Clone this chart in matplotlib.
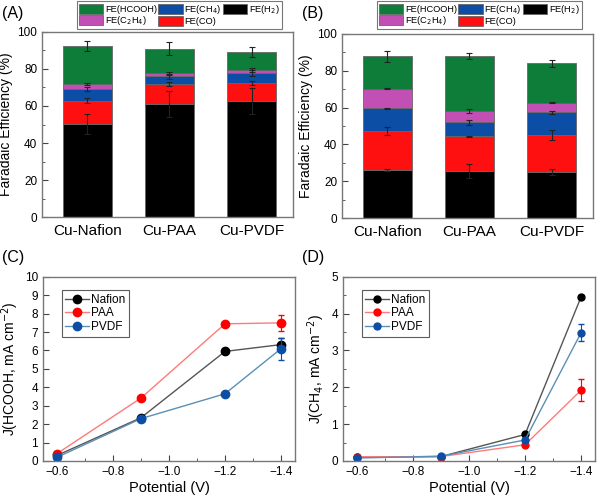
import matplotlib.pyplot as plt
from matplotlib.ticker import MultipleLocator
import numpy as np

plt.rcParams['font.family'] = ['Liberation Sans', 'DejaVu Sans']

# stacked faradaic efficiency data (segment heights, %)
samples = ['Cu-Nafion', 'Cu-PAA', 'Cu-PVDF']
species = ['FE(H$_2$)', 'FE(CO)', 'FE(CH$_4$)', 'FE(C$_2$H$_4$)', 'FE(HCOOH)']
seg_colors = ['#000000', '#ff1010', '#0c4ea6', '#c24fb4', '#0e7d3a']

fe_a = {
    'H2':    [50.3, 61.0, 62.9],
    'CO':    [12.6, 11.0, 9.4],
    'CH4':   [6.3, 4.0, 5.5],
    'C2H4':  [2.8, 1.6, 1.6],
    'HCOOH': [20.2, 13.4, 9.7],
}
err_a = {
    'H2':    [5.5, 7.0, 7.0],
    'CO':    [1.5, 1.0, 1.0],
    'CH4':   [1.3, 1.5, 1.5],
    'C2H4':  [0.5, 1.0, 1.0],
    'HCOOH': [2.7, 3.4, 2.9],
}
fe_b = {
    'H2':    [26.0, 25.5, 25.1],
    'CO':    [21.4, 18.9, 19.9],
    'CH4':   [12.2, 7.6, 12.4],
    'C2H4':  [10.6, 6.2, 5.3],
    'HCOOH': [17.6, 29.8, 21.3],
}
err_b = {
    'H2':    [0.5, 3.6, 1.5],
    'CO':    [2.3, 0.3, 2.7],
    'CH4':   [0.3, 1.2, 1.0],
    'C2H4':  [0.3, 1.0, 0.4],
    'HCOOH': [3.2, 1.8, 1.8],
}

# partial current densities
potential = [-0.6, -0.9, -1.2, -1.4]
j_hcooh = {
    'Nafion': [0.30, 2.35, 5.95, 6.32],
    'PAA':    [0.40, 3.42, 7.45, 7.50],
    'PVDF':   [0.20, 2.30, 3.65, 6.10],
}
j_hcooh_err = {
    'Nafion': [0.05, 0.05, 0.08, 0.35],
    'PAA':    [0.05, 0.05, 0.08, 0.45],
    'PVDF':   [0.05, 0.05, 0.08, 0.60],
}
j_ch4 = {
    'Nafion': [0.10, 0.12, 0.72, 4.45],
    'PAA':    [0.11, 0.12, 0.44, 1.92],
    'PVDF':   [0.08, 0.13, 0.57, 3.48],
}
j_ch4_err = {
    'Nafion': [0.02, 0.02, 0.04, 0.05],
    'PAA':    [0.02, 0.02, 0.04, 0.30],
    'PVDF':   [0.02, 0.02, 0.04, 0.23],
}
line_col = {'Nafion': '#555555', 'PAA': '#ff7a7a', 'PVDF': '#5b8fb5'}
mark_col = {'Nafion': '#000000', 'PAA': '#ff0000', 'PVDF': '#0c4ea6'}

frame = '#777777'
fig = plt.figure(figsize=(6, 4.99), dpi=100)


def style(ax):
    for s in ax.spines.values():
        s.set_color(frame)
        s.set_linewidth(1.0)
    ax.tick_params(direction='in', which='both', color='#444444', labelsize=8.5)
    ax.tick_params(which='major', length=4)
    ax.tick_params(which='minor', length=2)


def stacked(ax, fe, err):
    x = np.arange(len(samples))
    bottom = np.zeros(len(samples))
    keys = ['H2', 'CO', 'CH4', 'C2H4', 'HCOOH']
    handles = []
    for k, lab, c in zip(keys, species, seg_colors):
        h = ax.bar(x, fe[k], 0.6, bottom=bottom, color=c, edgecolor='#666666',
                   linewidth=0.6, label=lab)
        handles.append(h)
        bottom = bottom + np.array(fe[k])
        ax.errorbar(x, bottom, yerr=err[k], fmt='none', ecolor='#222222',
                    elinewidth=0.8, capsize=2.5, capthick=0.8)
    ax.set_xlim(-0.55, 2.5)
    ax.set_ylim(0, 100)
    ax.set_xticks(x)
    ax.set_xticklabels(samples, fontsize=11)
    ax.tick_params(axis='x', length=0, pad=5)
    ax.yaxis.set_major_locator(MultipleLocator(20))
    ax.yaxis.set_minor_locator(MultipleLocator(10))
    ax.set_ylabel('Faradaic Efficiency (%)', fontsize=10, labelpad=3)
    order = [4, 3, 2, 1, 0]
    return [handles[i] for i in order], [species[i] for i in order]


def top_legend(h, l, x0):
    leg = fig.legend(h, l, ncol=3, loc='upper left', bbox_to_anchor=(x0, 0.998),
                     fontsize=6.7, frameon=True, fancybox=False, edgecolor='#555555',
                     handlelength=2.6, handleheight=1.25, handletextpad=0.2,
                     columnspacing=0.15, labelspacing=0.05, borderpad=0.2,
                     borderaxespad=0)
    leg.get_frame().set_linewidth(0.8)


axA = fig.add_axes([0.07, 0.565, 0.418, 0.371])
style(axA)
hA, lA = stacked(axA, fe_a, err_a)
top_legend(hA, lA, 77 / 600)

axB = fig.add_axes([0.57, 0.563, 0.418, 0.369])
style(axB)
hB, lB = stacked(axB, fe_b, err_b)
top_legend(hB, lB, 377 / 600)


def lines(ax, data, errs, ms):
    for name in ['Nafion', 'PAA', 'PVDF']:
        ax.errorbar(potential, data[name], yerr=errs[name], fmt='none',
                    ecolor=mark_col[name], elinewidth=0.8, capsize=2)
        ax.plot(potential, data[name], color=line_col[name], lw=1.0,
                marker='o', ms=ms, mfc=mark_col[name], mec=mark_col[name],
                label=name)
    ax.set_xlim(-0.55, -1.45)
    ax.set_xticks([-0.6, -0.8, -1.0, -1.2, -1.4])
    ax.xaxis.set_minor_locator(MultipleLocator(0.1))
    ax.set_xlabel('Potential (V)', fontsize=10.5, labelpad=2)
    leg = ax.legend(loc='upper left', bbox_to_anchor=(0.05, 0.96), fontsize=8.5,
                    fancybox=False, edgecolor='#333333', handlelength=2.0,
                    handletextpad=0.2, labelspacing=0.15, borderpad=0.3)
    leg.get_frame().set_linewidth(0.8)


axC = fig.add_axes([0.0717, 0.0762, 0.42, 0.369])
style(axC)
lines(axC, j_hcooh, j_hcooh_err, 6)
axC.set_ylim(0, 10)
axC.yaxis.set_major_locator(MultipleLocator(1))
axC.set_ylabel('J(HCOOH, mA cm$^{-2}$)', fontsize=10, labelpad=3)

axD = fig.add_axes([0.5717, 0.0762, 0.42, 0.369])
style(axD)
lines(axD, j_ch4, j_ch4_err, 5)
axD.set_ylim(0, 5)
axD.yaxis.set_major_locator(MultipleLocator(1))
axD.yaxis.set_minor_locator(MultipleLocator(0.5))
axD.set_ylabel('J(CH$_4$, mA cm$^{-2}$)', fontsize=10, labelpad=3)

for lab, x, y in [('(A)', 0.003, 0.972), ('(B)', 0.503, 0.972),
                  ('(C)', 0.003, 0.483), ('(D)', 0.503, 0.483)]:
    fig.text(x, y, lab, fontsize=11.5, va='center', ha='left')

fig.savefig('out.png', dpi=100)
